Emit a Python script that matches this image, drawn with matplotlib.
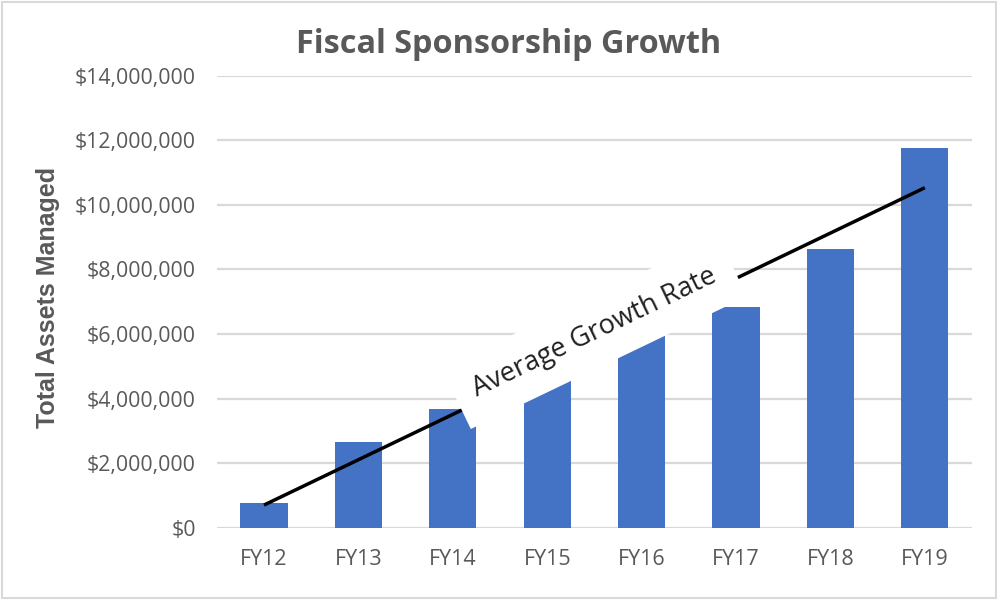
import numpy as np
import matplotlib
matplotlib.use("Agg")
import matplotlib.pyplot as plt
from matplotlib.patches import Rectangle
from matplotlib.ticker import FuncFormatter

# data
years = ["FY12", "FY13", "FY14", "FY15", "FY16", "FY17", "FY18", "FY19"]
assets = [760000, 2660000, 3680000, 4650000, 6000000, 6830000, 8620000, 11750000]
trend_start = 710000
trend_end = 10530000

BAR_COLOR = "#4472C4"
TEXT_GRAY = "#595959"
GRID_GRAY = "#D9D9D9"

plt.rcParams['font.family'] = ['Open Sans', 'DejaVu Sans']

fig = plt.figure(figsize=(9.99, 6.0), dpi=100)
ax = fig.add_axes([0.217, 0.12, 0.756, 0.754])

x = np.arange(len(years))
ax.bar(x, assets, width=0.5, color=BAR_COLOR, zorder=2)

# average growth line from first to last year
ax.plot([x[0], x[-1]], [trend_start, trend_end], color="black", lw=2.5,
        solid_capstyle="butt", zorder=3)

ax.set_xlim(-0.5, len(years) - 0.5)
ax.set_ylim(0, 14000000)
ax.set_yticks(np.arange(0, 14000001, 2000000))
ax.yaxis.set_major_formatter(FuncFormatter(lambda v, p: "${:,.0f}".format(v)))
ax.set_xticks(x)
ax.set_xticklabels(years)

ax.grid(axis="y", color=GRID_GRAY, lw=1.6, zorder=0)
ax.set_axisbelow(True)
for s in ax.spines.values():
    s.set_visible(False)
ax.tick_params(axis="y", length=0, pad=15, labelsize=15.3, labelcolor=TEXT_GRAY)
ax.tick_params(axis="x", length=0, pad=15, labelsize=15.5, labelcolor=TEXT_GRAY)

ax.set_ylabel("Total Assets Managed", family="Liberation Sans", weight="bold",
              fontsize=18, color=TEXT_GRAY)
ax.yaxis.set_label_coords(-0.207, 0.51)

fig.text(0.509, 0.926, "Fiscal Sponsorship Growth", ha="center", va="center",
         fontsize=23.3, weight="bold", color=TEXT_GRAY)

# rotated label sitting on the line, with a white box that hides what is under it
fig.canvas.draw()
p0 = ax.transData.transform((x[0], trend_start))
p1 = ax.transData.transform((x[-1], trend_end))
angle = np.degrees(np.arctan2(p1[1] - p0[1], p1[0] - p0[0]))
ax.text(3.5, 6050000, "Average Growth Rate", rotation=angle, rotation_mode="anchor",
        ha="center", va="center", fontsize=19.5, color="#202020", zorder=4,
        bbox=dict(boxstyle="square,pad=0.72", fc="white", ec="none"))

# light border around the chart area
fig.patches.append(Rectangle((0.002, 0.003), 0.995, 0.994, transform=fig.transFigure,
                             fill=False, ec=GRID_GRAY, lw=1.5))

fig.savefig("out.png", dpi=100)
